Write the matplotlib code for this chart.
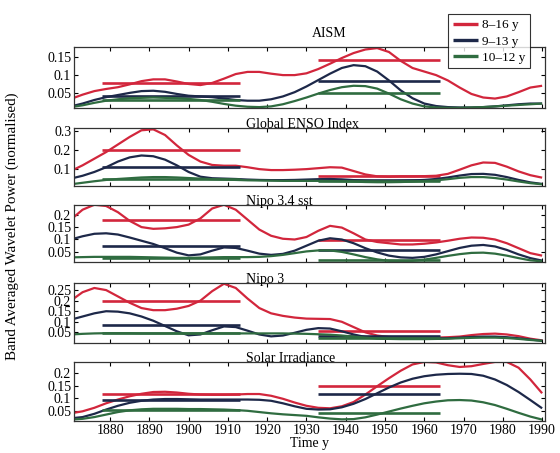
import numpy as np
import matplotlib
matplotlib.use('Agg')
import matplotlib.pyplot as plt
from matplotlib.ticker import FuncFormatter

plt.rcParams['font.family'] = ['Liberation Serif', 'DejaVu Serif']
plt.rcParams['font.size'] = 10

# wavelet power sampled every 3 years
years = list(range(1870, 1991, 3))

# AISM
aism_8_16 = [0.033, 0.045, 0.055, 0.061, 0.066, 0.074, 0.083, 0.088, 0.088, 0.082, 0.075,
             0.072, 0.078, 0.09, 0.103, 0.109, 0.109, 0.104, 0.1, 0.1, 0.105, 0.117, 0.132,
             0.148, 0.162, 0.172, 0.176, 0.165, 0.14, 0.12, 0.11, 0.1, 0.085, 0.065, 0.047,
             0.037, 0.034, 0.04, 0.052, 0.065, 0.07]
aism_9_13 = [0.012, 0.02, 0.03, 0.038, 0.044, 0.05, 0.055, 0.056, 0.053, 0.047, 0.042,
             0.04, 0.038, 0.034, 0.03, 0.028, 0.028, 0.032, 0.04, 0.052, 0.068, 0.086, 0.104,
             0.12, 0.128, 0.125, 0.11, 0.085, 0.057, 0.035, 0.02, 0.013, 0.01, 0.009, 0.009,
             0.01, 0.012, 0.015, 0.018, 0.02, 0.02]
aism_10_12 = [0.01, 0.015, 0.022, 0.028, 0.032, 0.035, 0.036, 0.037, 0.036, 0.035, 0.033,
              0.03, 0.025, 0.019, 0.014, 0.011, 0.01, 0.012, 0.018, 0.027, 0.037, 0.048, 0.058,
              0.066, 0.07, 0.069, 0.062, 0.048, 0.032, 0.02, 0.012, 0.009, 0.008, 0.008, 0.009,
              0.01, 0.012, 0.014, 0.016, 0.018, 0.02]

# Global ENSO Index
enso_8_16 = [0.09, 0.12, 0.155, 0.19, 0.23, 0.27, 0.305, 0.31, 0.28, 0.225, 0.175,
             0.14, 0.122, 0.118, 0.118, 0.11, 0.1, 0.095, 0.095, 0.097, 0.1, 0.105, 0.11,
             0.108, 0.09, 0.072, 0.062, 0.06, 0.062, 0.062, 0.063, 0.065, 0.075, 0.097, 0.12,
             0.135, 0.133, 0.113, 0.088, 0.068, 0.055]
enso_9_13 = [0.05, 0.065, 0.085, 0.11, 0.14, 0.162, 0.172, 0.168, 0.15, 0.12, 0.085,
             0.06, 0.052, 0.05, 0.048, 0.045, 0.043, 0.042, 0.042, 0.043, 0.045, 0.047, 0.048,
             0.046, 0.042, 0.038, 0.036, 0.036, 0.038, 0.04, 0.043, 0.048, 0.056, 0.066, 0.074,
             0.075, 0.07, 0.058, 0.043, 0.03, 0.022]
enso_10_12 = [0.02, 0.028, 0.036, 0.043, 0.048, 0.052, 0.056, 0.058, 0.058, 0.056, 0.053,
              0.05, 0.047, 0.045, 0.043, 0.041, 0.04, 0.039, 0.038, 0.038, 0.038, 0.038, 0.037,
              0.036, 0.034, 0.032, 0.031, 0.031, 0.032, 0.034, 0.037, 0.041, 0.047, 0.054, 0.058,
              0.058, 0.053, 0.045, 0.035, 0.026, 0.02]

# Nino 3.4 sst
n34_8_16 = [0.18, 0.22, 0.24, 0.235, 0.21, 0.175, 0.15, 0.143, 0.145, 0.15, 0.16,
            0.185, 0.225, 0.24, 0.22, 0.18, 0.14, 0.115, 0.103, 0.1, 0.11, 0.135, 0.155,
            0.148, 0.125, 0.1, 0.09, 0.085, 0.08, 0.08, 0.083, 0.088, 0.095, 0.103, 0.108,
            0.107, 0.1, 0.085, 0.065, 0.045, 0.035]
n34_9_13 = [0.1, 0.113, 0.123, 0.125, 0.12, 0.108, 0.095, 0.082, 0.065, 0.047, 0.036,
            0.04, 0.055, 0.068, 0.066, 0.055, 0.043, 0.038, 0.042, 0.055, 0.075, 0.095, 0.105,
            0.1, 0.085, 0.065, 0.048, 0.035, 0.028, 0.026, 0.03, 0.04, 0.053, 0.066, 0.075,
            0.078, 0.072, 0.058, 0.04, 0.025, 0.015]
n34_10_12 = [0.028, 0.029, 0.03, 0.03, 0.03, 0.03, 0.029, 0.028, 0.027, 0.026, 0.026,
             0.027, 0.028, 0.029, 0.029, 0.029, 0.03, 0.033, 0.038, 0.045, 0.052, 0.056, 0.056,
             0.05, 0.04, 0.029, 0.02, 0.014, 0.012, 0.014, 0.019, 0.026, 0.034, 0.041, 0.046,
             0.047, 0.043, 0.035, 0.025, 0.016, 0.012]

# Nino 3
n3_8_16 = [0.2, 0.24, 0.26, 0.25, 0.22, 0.19, 0.165, 0.155, 0.155, 0.162, 0.175,
           0.2, 0.245, 0.28, 0.26, 0.21, 0.165, 0.14, 0.128, 0.12, 0.115, 0.114, 0.113,
           0.1, 0.075, 0.05, 0.035, 0.028, 0.026, 0.025, 0.025, 0.025, 0.027, 0.03, 0.037,
           0.042, 0.044, 0.04, 0.032, 0.02, 0.012]
n3_9_13 = [0.11, 0.125, 0.14, 0.15, 0.148, 0.14, 0.125, 0.105, 0.08, 0.055, 0.036,
           0.04, 0.06, 0.078, 0.075, 0.058, 0.04, 0.031, 0.035, 0.048, 0.062, 0.07, 0.068,
           0.055, 0.04, 0.028, 0.022, 0.02, 0.02, 0.02, 0.02, 0.021, 0.022, 0.025, 0.028,
           0.03, 0.03, 0.027, 0.022, 0.016, 0.01]
n3_10_12 = [0.04, 0.043, 0.045, 0.046, 0.046, 0.046, 0.045, 0.045, 0.045, 0.045, 0.045,
            0.045, 0.045, 0.045, 0.045, 0.045, 0.045, 0.045, 0.045, 0.044, 0.043, 0.041, 0.039,
            0.035, 0.03, 0.025, 0.021, 0.019, 0.018, 0.018, 0.018, 0.019, 0.02, 0.022, 0.024,
            0.025, 0.025, 0.023, 0.019, 0.014, 0.01]

# Solar Irradiance
sol_8_16 = [0.04, 0.048, 0.062, 0.08, 0.095, 0.108, 0.118, 0.125, 0.126, 0.123, 0.118,
            0.115, 0.114, 0.114, 0.115, 0.117, 0.117, 0.11, 0.098, 0.083, 0.07, 0.062, 0.06,
            0.068, 0.085, 0.115, 0.148, 0.18, 0.21, 0.235, 0.245, 0.243, 0.232, 0.225, 0.228,
            0.237, 0.245, 0.245, 0.222, 0.175, 0.12]
sol_9_13 = [0.02, 0.025, 0.038, 0.055, 0.07, 0.082, 0.09, 0.095, 0.097, 0.097, 0.096,
            0.095, 0.095, 0.095, 0.095, 0.095, 0.094, 0.09, 0.08, 0.068, 0.058, 0.055, 0.056,
            0.064, 0.078, 0.097, 0.12, 0.143, 0.163, 0.178, 0.188, 0.194, 0.197, 0.198, 0.197,
            0.19, 0.175, 0.153, 0.125, 0.093, 0.06]
sol_10_12 = [0.015, 0.018, 0.025, 0.035, 0.045, 0.052, 0.056, 0.058, 0.058, 0.058, 0.057,
             0.057, 0.056, 0.055, 0.053, 0.05, 0.045, 0.04, 0.036, 0.033, 0.03, 0.024, 0.019,
             0.016, 0.017, 0.024, 0.035, 0.047, 0.059, 0.07, 0.08, 0.087, 0.092, 0.093, 0.091,
             0.084, 0.073, 0.058, 0.042, 0.027, 0.015]

# mean power over the two epochs, per band
epochs = [(1878, 1913), (1933, 1964)]
aism_means = [(0.077, 0.143), (0.04, 0.083), (0.031, 0.051)]
enso_means = [(0.2, 0.063), (0.11, 0.045), (0.05, 0.035)]
n34_means = [(0.177, 0.097), (0.072, 0.058), (0.027, 0.019)]
n3_means = [(0.2, 0.057), (0.086, 0.035), (0.045, 0.022)]
sol_means = [(0.117, 0.15), (0.093, 0.117), (0.055, 0.043)]

titles = ['AISM', 'Global ENSO Index', 'Nipo 3.4 sst', 'Nipo 3', 'Solar Irradiance']
band_labels = ['8\u201316 y', '9\u201313 y', '10\u201312 y']
colors = ['#d2263c', '#1d2849', '#2f6c40']

panels = [
    (titles[0], [aism_8_16, aism_9_13, aism_10_12], aism_means, (0.008, 0.18), [0.05, 0.1, 0.15]),
    (titles[1], [enso_8_16, enso_9_13, enso_10_12], enso_means, (0.01, 0.316), [0.1, 0.2, 0.3]),
    (titles[2], [n34_8_16, n34_9_13, n34_10_12], n34_means, (0.01, 0.24), [0.05, 0.1, 0.15, 0.2]),
    (titles[3], [n3_8_16, n3_9_13, n3_10_12], n3_means, (0.0, 0.283), [0.05, 0.1, 0.15, 0.2, 0.25]),
    (titles[4], [sol_8_16, sol_9_13, sol_10_12], sol_means, (0.01, 0.245), [0.05, 0.1, 0.15, 0.2]),
]

# axes boxes [left, bottom, width, height] in figure fraction
boxes = [
    [0.132, 0.762, 0.841, 0.135],
    [0.132, 0.589, 0.841, 0.128],
    [0.132, 0.422, 0.841, 0.126],
    [0.132, 0.243, 0.841, 0.132],
    [0.132, 0.071, 0.841, 0.130],
]

fig = plt.figure(figsize=(5.6, 4.53), dpi=100)
fmt = FuncFormatter(lambda v, p: '%g' % v)

for k, (name, series, means, ylim, yt) in enumerate(panels):
    ax = fig.add_axes(boxes[k])
    for s, m, c, lab in zip(series, means, colors, band_labels):
        ax.plot(years, s, color=c, lw=1.6, label=lab, solid_capstyle='butt')
        for (a, b), v in zip(epochs, m):
            ax.plot([a, b], [v, v], color=c, lw=1.9, solid_capstyle='butt')
    ax.set_xlim(1870.8, 1990.7)
    ax.set_ylim(*ylim)
    ax.set_yticks(yt)
    ax.yaxis.set_major_formatter(fmt)
    ax.set_xticks(range(1880, 1991, 10))
    ax.tick_params(direction='in', top=True, right=True, length=3, width=0.8,
                   labelsize=10, pad=2)
    for sp in ax.spines.values():
        sp.set_linewidth(0.9)
        sp.set_color('#333333')
    if k < 4:
        ax.tick_params(labelbottom=False)
    if k == 0:
        ax.text(0.505, 1.16, name, transform=ax.transAxes, ha='left', va='baseline', fontsize=10)
        handles = ax.get_lines()[0::3]
    else:
        ax.text(0.366, 1.0, name, transform=ax.transAxes, ha='left', va='baseline', fontsize=10)
    if k == 4:
        ax.set_xlabel('Time y', fontsize=10, labelpad=0)

leg = fig.legend(handles, band_labels, loc='upper right', bbox_to_anchor=(0.946, 0.968),
                 fontsize=9.5, frameon=True, fancybox=False, edgecolor='black',
                 handlelength=1.9, handletextpad=0.3, labelspacing=0.3,
                 borderpad=0.35, borderaxespad=0)
leg.get_frame().set_linewidth(0.8)
for h in leg.get_lines():
    h.set_linewidth(2.4)

fig.text(0.021, 0.50, 'Band Averaged Wavelet Power (normalised)', rotation=90,
         ha='center', va='center', fontsize=10.8)

fig.savefig('out.png', dpi=100)
